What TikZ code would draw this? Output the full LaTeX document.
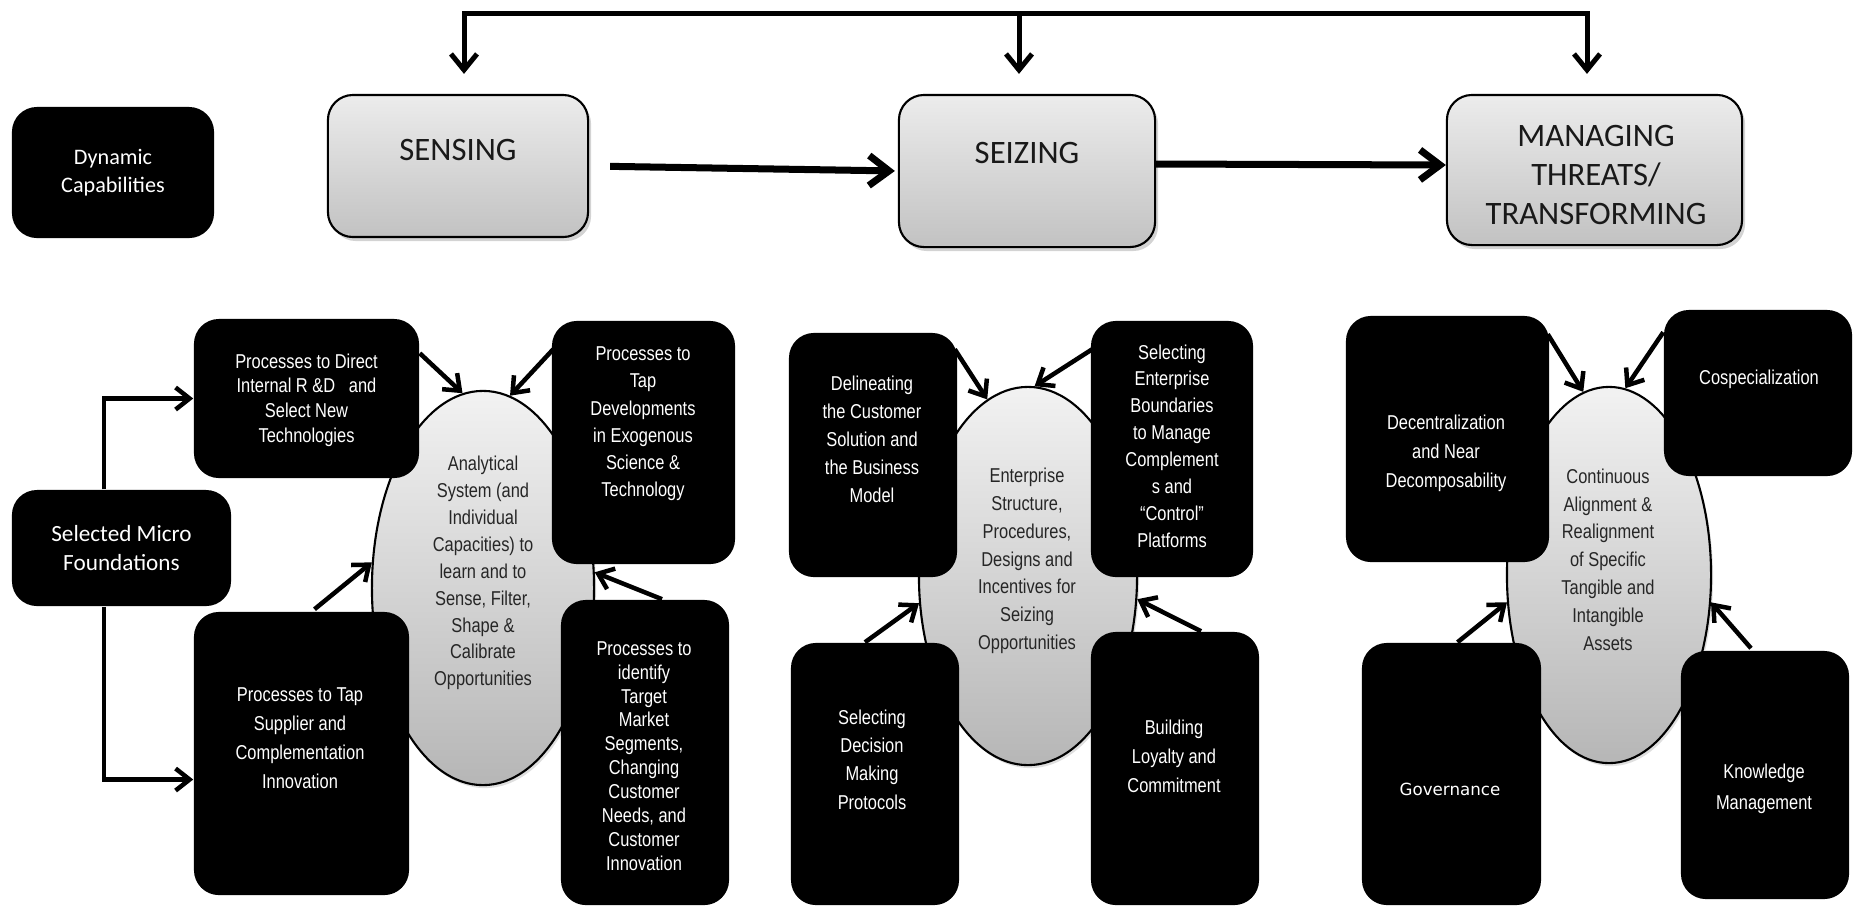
\documentclass[tikz,border=0pt]{standalone}
\usepackage{fontspec}
\setmainfont{Carlito}
\newfontfamily\narrowfont[FakeStretch=0.82]{Liberation Sans}
\newfontfamily\verdfont{DejaVu Sans}
\usetikzlibrary{arrows.meta,shadows,calc,shapes.geometric}
\definecolor{gtop}{RGB}{236,236,236}
\definecolor{gbot}{RGB}{194,194,194}
\definecolor{etop}{RGB}{242,242,242}
\definecolor{ebot}{RGB}{182,182,182}
\begin{document}
\begin{tikzpicture}[x=0.01cm, y=-0.01cm,
  gbox/.style={rectangle, rounded corners=0.25cm, draw=black, line width=0.6pt,
    top color=gtop, bottom color=gbot, inner sep=0,
    drop shadow={shadow xshift=0.03cm, shadow yshift=-0.04cm, opacity=0.35}},
  bbox/.style={rectangle, rounded corners=0.25cm, fill=black, inner sep=0},
  ell/.style={ellipse, draw=black, line width=0.6pt, top color=etop, bottom color=ebot, inner sep=0,
    drop shadow={shadow xshift=0.02cm, shadow yshift=-0.03cm, opacity=0.25}},
  bt/.style={text=white, align=center, inner sep=0, font=\narrowfont\fontsize{5.7}{#1}\selectfont},
  et/.style={text=black!85, align=center, inner sep=0, font=\narrowfont\fontsize{5.7}{#1}\selectfont},
  gt/.style={text=black!90, align=center, inner sep=0, font=\fontsize{9.3}{11}\selectfont},
  tarr/.style={line width=0.05cm, -{Straight Barb[length=0.16cm,width=0.26cm]}},
  harr/.style={line width=0.07cm, -{Straight Barb[length=0.2cm,width=0.3cm]}},
  sarr/.style={line width=0.045cm, -{Straight Barb[length=0.14cm,width=0.22cm]}}]
\useasboundingbox (0,0) rectangle (1854,908);

% top row
\node[bbox, minimum width=2.02cm, minimum height=1.31cm, text=white, align=center,
  font=\fontsize{6.3}{8}\selectfont] (dyn) at (113,172.5) {Dynamic\\Capabilities};
\node[gbox, minimum width=2.60cm, minimum height=1.42cm] (sensing) at (458,166) {};
\node[gt] (sensing-t) at (458,150) {SENSING};
\node[gbox, minimum width=2.56cm, minimum height=1.52cm] (seizing) at (1027,171) {};
\node[gt] (seizing-t) at (1027,153) {SEIZING};
\node[gbox, minimum width=2.95cm, minimum height=1.50cm] (managing) at (1594.5,170) {};
\node[gt] (managing-t) at (1596,175) {MANAGING\\THREATS/\\TRANSFORMING};

\coordinate (tl) at (464,13);
\coordinate (tm) at (1019,13);
\coordinate (tr) at (1587,13);
\draw[tarr, shorten >=0.2cm] (tm) -- (tl) -- (tl |- sensing.north);
\draw[tarr, shorten >=0.2cm] (tm) -- (tr) -- (tr |- managing.north);
\draw[tarr, shorten >=0.2cm] (tm) -- (tm |- seizing.north);
\draw[harr, shorten <=0.21cm, shorten >=0.03cm] (sensing.east) -- (seizing.west);
\draw[harr] ([yshift=0.07cm]seizing.east) -- ([yshift=0.05cm]managing.west);

% ellipses
\node[ell, minimum width=2.22cm, minimum height=3.94cm] (e1) at (483,588) {};
\node[ell, minimum width=2.18cm, minimum height=3.78cm] (e2) at (1028,576) {};
\node[ell, minimum width=2.04cm, minimum height=3.76cm] (e3) at (1609,575) {};

% black boxes - sensing group
\node[bbox, minimum width=2.19cm, minimum height=1.16cm, text=white, align=center,
  font=\fontsize{6.6}{8.1}\selectfont] (micro) at (121.5,548) {Selected Micro\\Foundations};
\node[bbox, minimum width=2.25cm, minimum height=1.59cm] (direct) at (306.5,398.5) {};
\node[bt=7.0] (direct-t) at (306.5,400) {Processes to Direct\\Internal R \&D~~ and\\Select New\\Technologies};
\node[bbox, minimum width=2.15cm, minimum height=2.83cm] (supplier) at (301.5,753.5) {};
\node[bt=8.2] (supplier-t) at (300,738) {Processes to Tap\\Supplier and\\Complementation\\Innovation};
\node[bbox, minimum width=1.83cm, minimum height=2.43cm] (exo) at (643.5,442.5) {};
\node[bt=7.75] (exo-t) at (643,424) {Processes to\\Tap\\Developments\\in Exogenous\\Science \&\\Technology};
\node[bbox, minimum width=1.68cm, minimum height=3.05cm] (ident) at (645,752.5) {};
\node[bt=6.8] (ident-t) at (644,756) {Processes to\\identify\\Target\\Market\\Segments,\\Changing\\Customer\\Needs, and\\Customer\\Innovation};
\node[et=7.65] (e1-t) at (483,573) {Analytical\\System (and\\Individual\\Capacities) to\\learn and to\\Sense, Filter,\\Shape \&\\Calibrate\\Opportunities};

% seizing group
\node[bbox, minimum width=1.68cm, minimum height=2.44cm] (delin) at (873,455) {};
\node[bt=8.0] (delin-t) at (872,439.5) {Delineating\\the Customer\\Solution and\\the Business\\Model};
\node[bbox, minimum width=1.62cm, minimum height=2.56cm] (bound) at (1172,449) {};
\node[bt=7.65] (bound-t) at (1172,446) {Selecting\\Enterprise\\Boundaries\\to Manage\\Complement\\s and\\“Control”\\Platforms};
\node[bbox, minimum width=1.68cm, minimum height=2.62cm] (decis) at (875,774) {};
\node[bt=8.05] (decis-t) at (872,759.5) {Selecting\\Decision\\Making\\Protocols};
\node[bbox, minimum width=1.68cm, minimum height=2.73cm] (loyal) at (1175,768.5) {};
\node[bt=8.25] (loyal-t) at (1174,756) {Building\\Loyalty and\\Commitment};
\node[et=7.9] (e2-t) at (1027,561) {Enterprise\\Structure,\\Procedures,\\Designs and\\Incentives for\\Seizing\\Opportunities};

% managing group
\node[bbox, minimum width=2.03cm, minimum height=2.46cm] (decen) at (1447.5,439) {};
\node[bt=8.25] (decen-t) at (1446,453) {Decentralization\\and Near\\Decomposability};
\node[bbox, minimum width=1.88cm, minimum height=1.66cm] (cosp) at (1758,393) {};
\node[bt=8] (cosp-t) at (1759,379) {Cospecialization};
\node[bbox, minimum width=1.79cm, minimum height=2.62cm] (gov) at (1451.5,774) {};
\node[text=white, inner sep=0, font=\verdfont\fontsize{4.75}{6}\selectfont] (gov-t) at (1450,789) {Governance};
\node[bbox, minimum width=1.68cm, minimum height=2.48cm] (know) at (1765,775) {};
\node[bt=8.8] (know-t) at (1764,788.5) {Knowledge\\Management};
\node[et=7.9] (e3-t) at (1608,559.5) {Continuous\\Alignment \&\\Realignment\\of Specific\\Tangible and\\Intangible\\Assets};

% left connector
\draw[sarr] ([xshift=-0.175cm]micro.north) |- (direct.west);
\draw[sarr] ([xshift=-0.175cm]micro.south) |- ([yshift=-0.26cm]supplier.west);

% arrows into ellipses
\draw[sarr] ($(direct.north east)+(0,35)$) -- (e1.96);
\draw[sarr] ($(exo.north west)+(2,29)$) -- (e1.82);
\draw[sarr] ($(supplier.north)+(13,-2)$) -- (e1.167);
\draw[sarr] ($(ident.north)+(17,0)$) -- (e1.8);
\draw[sarr] ($(delin.north east)+(-3,17)$) -- (e2.103);
\draw[sarr] ($(bound.north west)+(2,29)$) -- (e2.88);
\draw[sarr] ($(decis.north)+(-10,0)$) -- (e2.194);
\draw[sarr] ($(loyal.north)+(26,0)$) -- (e2.-12);
\draw[sarr] ($(decen.north east)+(-2,19)$) -- (e3.98);
\draw[sarr] ($(cosp.north west)+(0,23)$) -- (e3.85);
\draw[sarr] ($(gov.north)+(6,0)$) -- (e3.195);
\draw[sarr] ($(know.north)+(-14,-2)$) -- (e3.-15);
\end{tikzpicture}
\end{document}
